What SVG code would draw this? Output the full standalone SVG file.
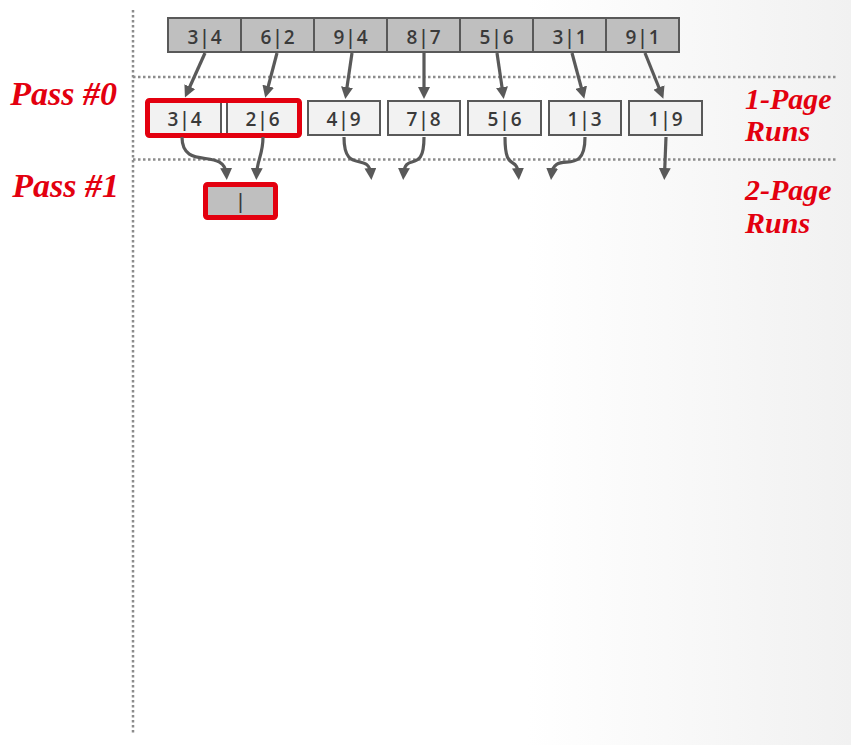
<svg xmlns="http://www.w3.org/2000/svg" width="851" height="745" viewBox="0 0 851 745">
<defs>
<linearGradient id="bg" x1="0" y1="0" x2="851" y2="0" gradientUnits="userSpaceOnUse">
<stop offset="0" stop-color="#ffffff"/>
<stop offset="0.62" stop-color="#ffffff"/>
<stop offset="1" stop-color="#f1f1f1"/>
</linearGradient>
<marker id="ah" viewBox="0 0 12 12" refX="7" refY="6" markerWidth="12" markerHeight="12" markerUnits="userSpaceOnUse" orient="auto">
<path d="M0,0 L12,6 L0,12 z" fill="#595959"/>
</marker>
</defs>
<style>
.top{fill:#bfbfbf;stroke:#595959;stroke-width:2}
.run{fill:#f2f2f2;stroke:#595959;stroke-width:2}
.red{fill:none;stroke:#e3000f;stroke-width:5}
.num{font-family:"Open Sans","DejaVu Sans",sans-serif;font-weight:600;font-size:19px;fill:#3a3a3a;text-anchor:middle;letter-spacing:1px}
.lbl{font-family:"Liberation Serif","Times New Roman",serif;font-weight:bold;font-style:italic;fill:#e3000f}
.dot{stroke:#8c8c8c;stroke-width:2.5;stroke-dasharray:2.5 2.5;fill:none}
.conn{stroke:#595959;stroke-width:3.2;fill:none;marker-end:url(#ah)}
</style>
<rect x="0" y="0" width="851" height="745" fill="url(#bg)"/>
<g id="guides">
<line class="dot" x1="133" y1="10" x2="133" y2="735"/>
<line class="dot" x1="133" y1="77" x2="837" y2="77"/>
<line class="dot" x1="133" y1="159.5" x2="837" y2="159.5"/>
</g>
<g id="labels">
<text class="lbl" x="117" y="105" font-size="34" text-anchor="end">Pass #0</text>
<text class="lbl" x="119" y="197" font-size="34" text-anchor="end">Pass #1</text>
<text class="lbl" x="745" y="109" font-size="30">1-Page</text>
<text class="lbl" x="745" y="141" font-size="30">Runs</text>
<text class="lbl" x="745" y="200" font-size="30">2-Page</text>
<text class="lbl" x="745" y="233" font-size="30">Runs</text>
</g>
<g id="input-pages">
<g id="in1"><rect class="top" x="168" y="18" width="73" height="34"/><text class="num" x="205" y="44">3|4</text></g>
<g id="in2"><rect class="top" x="241" y="18" width="73" height="34"/><text class="num" x="278" y="44">6|2</text></g>
<g id="in3"><rect class="top" x="314" y="18" width="73" height="34"/><text class="num" x="351" y="44">9|4</text></g>
<g id="in4"><rect class="top" x="387" y="18" width="73" height="34"/><text class="num" x="424" y="44">8|7</text></g>
<g id="in5"><rect class="top" x="460" y="18" width="73" height="34"/><text class="num" x="497" y="44">5|6</text></g>
<g id="in6"><rect class="top" x="533" y="18" width="73" height="34"/><text class="num" x="570" y="44">3|1</text></g>
<g id="in7"><rect class="top" x="606" y="18" width="73" height="34"/><text class="num" x="643" y="44">9|1</text></g>
</g>
<g id="runs1">
<g id="r1"><rect class="run" x="148" y="101" width="73" height="34"/><text class="num" x="185" y="126">3|4</text></g>
<g id="r2"><rect class="run" x="227" y="101" width="72" height="34"/><text class="num" x="263" y="126">2|6</text></g>
<g id="r3"><rect class="run" x="308" y="101" width="72" height="34"/><text class="num" x="344" y="126">4|9</text></g>
<g id="r4"><rect class="run" x="388" y="101" width="72" height="34"/><text class="num" x="424" y="126">7|8</text></g>
<g id="r5"><rect class="run" x="468" y="101" width="73" height="34"/><text class="num" x="505" y="126">5|6</text></g>
<g id="r6"><rect class="run" x="549" y="101" width="72" height="34"/><text class="num" x="585" y="126">1|3</text></g>
<g id="r7"><rect class="run" x="629" y="101" width="73" height="34"/><text class="num" x="666" y="126">1|9</text></g>
<rect id="sel" class="red" x="147.5" y="100.5" width="152" height="35" rx="2"/>
</g>
<g id="out1">
<rect x="205.5" y="184.5" width="70" height="33" rx="2" fill="#bfbfbf" stroke="#e3000f" stroke-width="5"/>
<text class="num" x="241" y="208">|</text>
</g>
<g id="connectors">
<path class="conn" d="M205,53 L187,93"/>
<path class="conn" d="M277,53 L266.5,93"/>
<path class="conn" d="M352,53 L346,94"/>
<path class="conn" d="M424,53 L424,94"/>
<path class="conn" d="M497,53 L503,94"/>
<path class="conn" d="M572,53 L583,94"/>
<path class="conn" d="M645,53 L661.5,94"/>
<path class="conn" d="M182,137 C182,172 225,146 226.5,175"/>
<path class="conn" d="M263,137 C263,155 257,160 256.5,175"/>
<path class="conn" d="M344,137 C344,176 369,150 371,175"/>
<path class="conn" d="M424,137 C424,176 405,150 403.5,175"/>
<path class="conn" d="M505,137 C505,174 517,154 518.5,175"/>
<path class="conn" d="M585,137 C585,180 554,148 551.5,175"/>
<path class="conn" d="M666,137 L664.5,175"/>
</g>
</svg>
